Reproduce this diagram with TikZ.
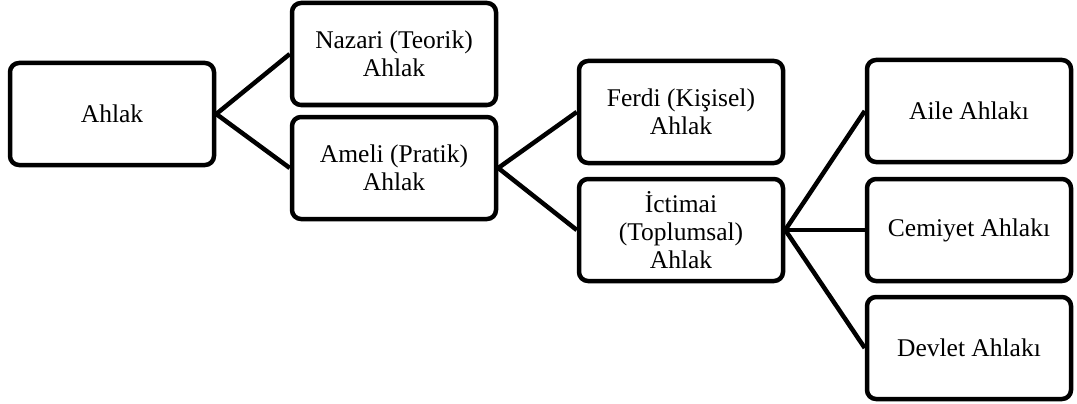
\documentclass[tikz,border=0pt]{standalone}
\usepackage{fontspec}
\setmainfont{Liberation Serif}
\begin{document}
\begin{tikzpicture}[x=1pt,y=-1pt,
  box/.style={draw=black,line width=4.5pt,rounded corners=9pt,minimum width=204pt,minimum height=102pt,align=center,font=\fontsize{25.5}{28}\selectfont,inner sep=2pt},
  link/.style={line width=4.5pt}]
\useasboundingbox (0,0) rectangle (1077,404);
\node[box] (ahlak) at (112,114) {Ahlak};
\node[box] (nazari) at (394,54) {Nazari (Teorik)\\Ahlak};
\node[box] (ameli) at (394,168) {Ameli (Pratik)\\Ahlak};
\node[box] (ferdi) at (681,112) {Ferdi (Kişisel)\\Ahlak};
\node[box] (ictimai) at (681,230) {İctimai\\(Toplumsal)\\Ahlak};
\node[box] (aile) at (969,111) {Aile Ahlakı};
\node[box] (cemiyet) at (969,230) {Cemiyet Ahlakı};
\node[box] (devlet) at (969,348) {Devlet Ahlakı};
\draw[link] (ahlak.east) -- (nazari.west);
\draw[link] (ahlak.east) -- (ameli.west);
\draw[link] (ameli.east) -- (ferdi.west);
\draw[link] (ameli.east) -- (ictimai.west);
\draw[link] (ictimai.east) -- (aile.west);
\draw[link] (ictimai.east) -- (cemiyet.west);
\draw[link] (ictimai.east) -- (devlet.west);
\end{tikzpicture}
\end{document}
